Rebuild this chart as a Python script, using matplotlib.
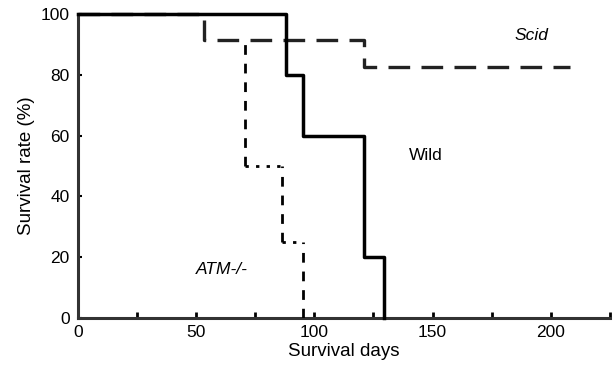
import numpy as np
import matplotlib.pyplot as plt

plt.rcParams['font.family'] = ['Liberation Sans', 'DejaVu Sans']

# survival curves (days, % surviving)
wild_days = [0, 88, 95, 121, 129.5]
wild_rate = [100, 80, 60, 20, 0]

scid_days = [0, 53.5, 121, 208]
scid_rate = [100, 91.5, 82.5, 82.5]

atm_days = [0, 70.5, 86.5, 95]
atm_rate = [100, 50, 25, 0]

x_major = [0, 50, 100, 150, 200]
y_major = [0, 20, 40, 60, 80, 100]

fig = plt.figure(figsize=(6.13, 3.68), dpi=100)
ax = fig.add_axes([0.127, 0.136, 0.868, 0.826])

# wild type: solid step line (on top, it hides the shared 100% stretch)
ax.step(wild_days, wild_rate, where='post', color='black', lw=2.5, clip_on=False, zorder=5)

# scid: long thick dashes
ax.step(scid_days, scid_rate, where='post', color='#222222', lw=2.4,
        dashes=(6.5, 3.4), clip_on=False, zorder=3)

# ATM-/-: dashed drops, dotted plateaus
for k in range(1, len(atm_days)):
    top = min(atm_rate[k - 1], 91.5)
    ax.vlines(atm_days[k], atm_rate[k], top, color='black', lw=2.0,
              linestyles=(0, (3.5, 3.2)), zorder=3)
    if k < len(atm_days) - 1:
        ax.hlines(atm_rate[k], atm_days[k], atm_days[k + 1], color='black', lw=2.0,
                  linestyles=(0, (1.2, 2.6)), zorder=3)

ax.text(192, 93, 'Scid', fontsize=12.5, style='italic', ha='center', va='center')
ax.text(147, 53.5, 'Wild', fontsize=12.5, ha='center', va='center')
ax.text(61, 16, 'ATM-/-', fontsize=12.5, style='italic', ha='center', va='center')

ax.set_xlim(0, 225)
ax.set_ylim(0, 100)
ax.set_xticks(x_major)
ax.set_xticks(np.arange(25, 226, 50), minor=True)
ax.set_yticks(y_major)
ax.tick_params(axis='both', which='both', direction='in', length=4, width=2,
               labelsize=12.5, pad=5)
ax.tick_params(axis='y', length=3, width=1.5, pad=6)

for s in ['top', 'right']:
    ax.spines[s].set_visible(False)
for s in ['left', 'bottom']:
    ax.spines[s].set_linewidth(2.2)
    ax.spines[s].set_color('#333333')

ax.set_xlabel('Survival days', fontsize=13.5, labelpad=2)
ax.set_ylabel('Survival rate (%)', fontsize=13.5, labelpad=4)

fig.savefig('out.png', dpi=100)
